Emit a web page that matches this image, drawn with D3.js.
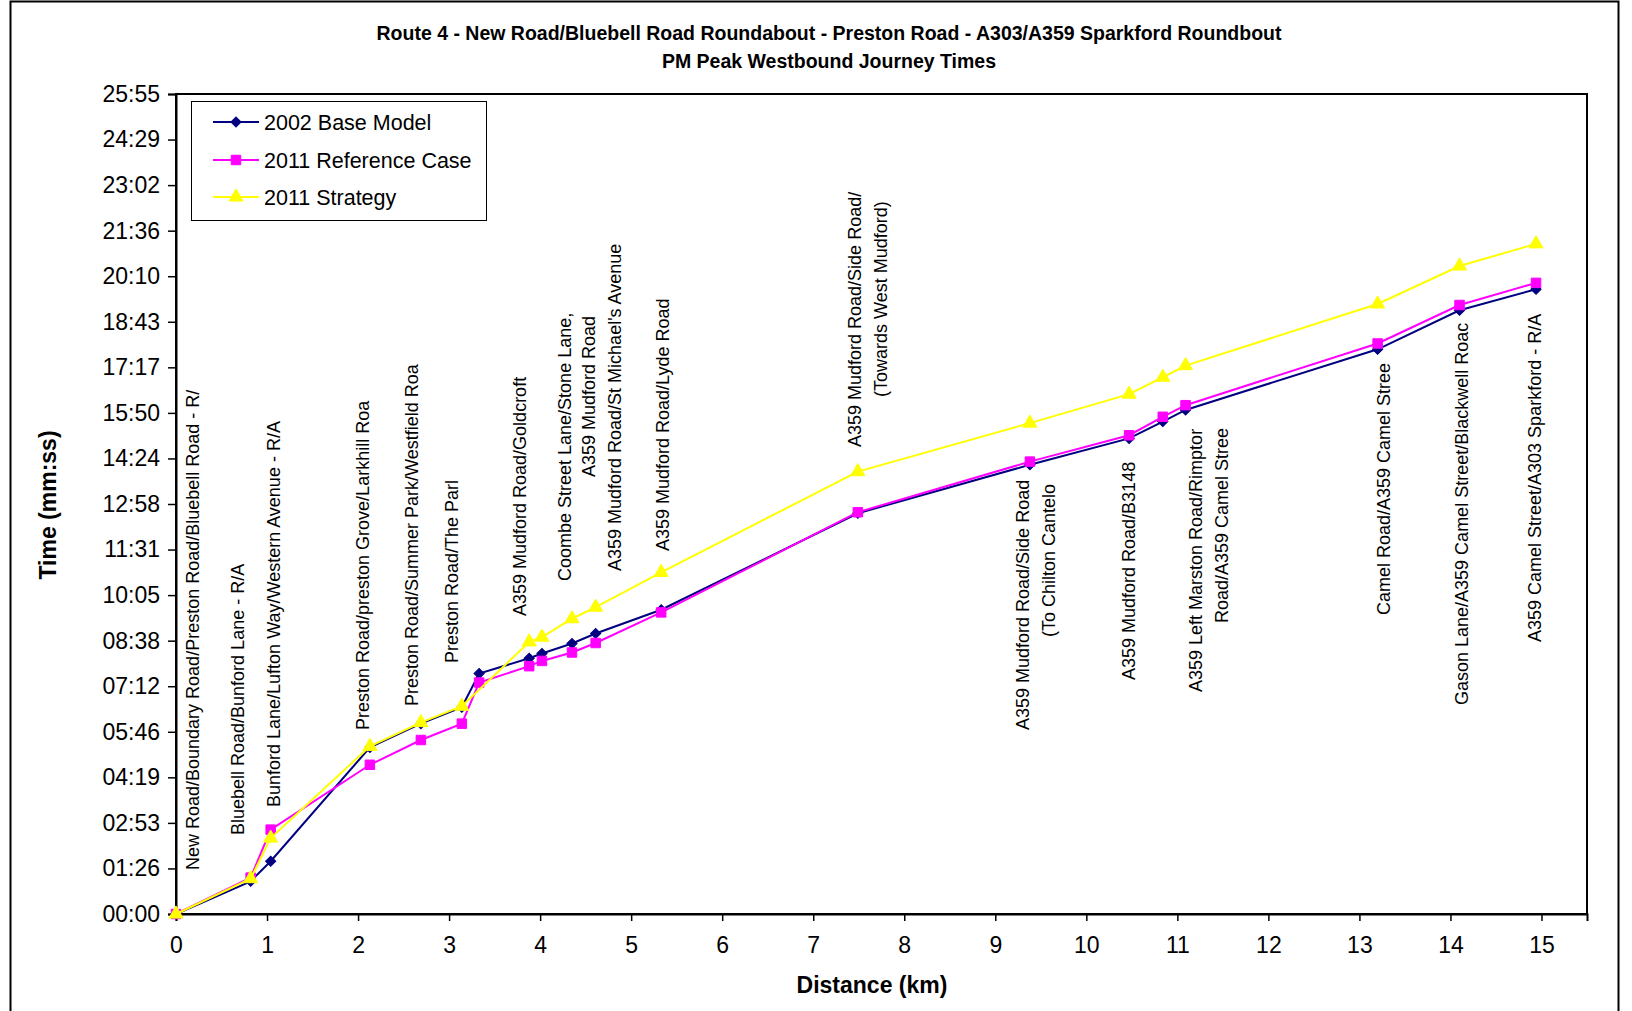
<!DOCTYPE html>
<html>
<head>
<meta charset="utf-8">
<script src="https://cdn.jsdelivr.net/npm/d3@7/dist/d3.min.js"></script>
<style>
  html, body { margin: 0; padding: 0; background: #fff; }
  svg { display: block; font-family: "Liberation Sans", Arial, sans-serif; }
</style>
</head>
<body>
<svg id="chart" width="1632" height="1011"></svg>
<script>
// ---------------- DATA ----------------
const titleLines = [
  "Route 4 - New Road/Bluebell Road Roundabout - Preston Road - A303/A359 Sparkford Roundbout",
  "PM Peak Westbound Journey Times"
];
const xAxisTitle = "Distance (km)";
const yAxisTitle = "Time (mm:ss)";

// distance along route (km)
const distances = [0, 0.82, 1.04, 2.13, 2.69, 3.14, 3.33, 3.88, 4.02, 4.35, 4.61, 5.33, 7.49, 9.38, 10.47, 10.84, 11.09, 13.20, 14.10, 14.94];
// cumulative journey time (seconds)
const baseModel2002     = [0, 62, 100, 316, 361, 392, 456, 485, 494, 513, 532, 577, 760, 852, 902, 934, 956, 1071, 1145, 1185];
const referenceCase2011 = [0, 69, 160, 283, 330, 361, 439, 470, 480, 496, 514, 572, 762, 858, 908, 943, 965, 1082, 1155, 1197];
const strategy2011      = [0, 67, 144, 318, 363, 394, null, 516, 525, 560, 582, 648, 839, 931, 986, 1018, 1040, 1157, 1229, 1271];

const seriesNames = ["2002 Base Model", "2011 Reference Case", "2011 Strategy"];

const xTickValues = [0, 1, 2, 3, 4, 5, 6, 7, 8, 9, 10, 11, 12, 13, 14, 15];
const yTickLabels = ["00:00", "01:26", "02:53", "04:19", "05:46", "07:12", "08:38", "10:05", "11:31",
                     "12:58", "14:24", "15:50", "17:17", "18:43", "20:10", "21:36", "23:02", "24:29", "25:55"];
const yTickStepSeconds = 86.4; // 0.001 day

// junction annotations (text lines)
const junctionLabels = [
  ["New Road/Boundary Road/Preston Road/Bluebell Road - R/"],
  ["Bluebell Road/Bunford Lane - R/A"],
  ["Bunford Lane/Lufton Way/Western Avenue - R/A"],
  ["Preston Road/preston Grove/Larkhill Roa"],
  ["Preston Road/Summer Park/Westfield Roa"],
  ["Preston Road/The Parl"],
  ["A359 Mudford Road/Goldcroft"],
  ["Coombe Street Lane/Stone Lane,"],
  ["A359 Mudford Road"],
  ["A359 Mudford Road/St Michael's Avenue"],
  ["A359 Mudford Road/Lyde Road"],
  ["A359 Mudford Road/Side Road/", "(Towards West Mudford)"],
  ["A359 Mudford Road/Side Road", "(To Chilton Cantelo"],
  ["A359 Mudford Road/B3148"],
  ["A359 Left Marston Road/Rimptor", "Road/A359 Camel Stree"],
  ["Camel Road/A359 Camel Stree"],
  ["Gason Lane/A359 Camel Street/Blackwell Roac"],
  ["A359 Camel Street/A303 Sparkford - R/A"]
];

// ---------------- LAYOUT ----------------
// pixel layout of annotation text: centre x of first line, bottom y of each line
const labelLayout = [
  { x: 193, bottoms: [870] },
  { x: 238, bottoms: [835] },
  { x: 274, bottoms: [807] },
  { x: 363, bottoms: [730] },
  { x: 412, bottoms: [706] },
  { x: 452, bottoms: [663] },
  { x: 520, bottoms: [616] },
  { x: 565, bottoms: [581] },
  { x: 589, bottoms: [477] },
  { x: 615, bottoms: [571] },
  { x: 663, bottoms: [551] },
  { x: 855, bottoms: [447, 397] },
  { x: 1023, bottoms: [730, 637] },
  { x: 1129, bottoms: [680] },
  { x: 1196, bottoms: [692, 623] },
  { x: 1384, bottoms: [615] },
  { x: 1462, bottoms: [705] },
  { x: 1535, bottoms: [642] }
];
const lineGap = 26;

const plot = { left: 176, right: 1587, top: 94, bottom: 914 };

const svg = d3.select("#chart");

// outer frame
svg.append("rect")
  .attr("x", 10.5).attr("y", 1.5)
  .attr("width", 1608).attr("height", 1100)
  .attr("fill", "#fff").attr("stroke", "#000").attr("stroke-width", 2);

const x = d3.scaleLinear().domain([0, 15.5]).range([plot.left, plot.right]);
const yMax = yTickStepSeconds * (yTickLabels.length - 1);
const y = d3.scaleLinear().domain([0, yMax]).range([plot.bottom, plot.top]);

// plot area border
svg.append("rect")
  .attr("x", plot.left).attr("y", plot.top)
  .attr("width", plot.right - plot.left).attr("height", plot.bottom - plot.top)
  .attr("fill", "#fff").attr("stroke", "#000").attr("stroke-width", 2);

// title
svg.append("g").selectAll("text").data(titleLines).join("text")
  .attr("x", 829)
  .attr("y", (d, i) => [40, 68][i])
  .attr("text-anchor", "middle")
  .attr("font-weight", "bold")
  .attr("font-size", 19.5)
  .attr("fill", "#000")
  .text(d => d);

// axes
const yTickValues = yTickLabels.map((_, i) => i * yTickStepSeconds);
const yAxis = d3.axisLeft(y)
  .tickValues(yTickValues)
  .tickSize(8)
  .tickPadding(8)
  .tickFormat((d, i) => yTickLabels[i]);
const gy = svg.append("g").attr("transform", `translate(${plot.left},0)`).call(yAxis);
gy.select(".domain").attr("stroke", "#000").attr("stroke-width", 2);
gy.selectAll(".tick line").attr("stroke", "#000").attr("stroke-width", 1.5);
gy.selectAll(".tick text").attr("font-size", 23).attr("fill", "#000")
  .attr("font-family", "'Liberation Sans', Arial, sans-serif");

const xAxis = d3.axisBottom(x)
  .tickValues(xTickValues)
  .tickSize(7)
  .tickPadding(16)
  .tickFormat(d3.format("d"));
const gx = svg.append("g").attr("transform", `translate(0,${plot.bottom})`).call(xAxis);
gx.select(".domain").attr("stroke", "#000").attr("stroke-width", 2);
gx.selectAll(".tick line").attr("stroke", "#000").attr("stroke-width", 1.5);
gx.selectAll(".tick text").attr("font-size", 23).attr("fill", "#000")
  .attr("font-family", "'Liberation Sans', Arial, sans-serif");

// axis titles
svg.append("text")
  .attr("x", 872).attr("y", 993)
  .attr("text-anchor", "middle")
  .attr("font-weight", "bold").attr("font-size", 23)
  .text(xAxisTitle);
svg.append("text")
  .attr("transform", "translate(56,505) rotate(-90)")
  .attr("text-anchor", "middle")
  .attr("font-weight", "bold").attr("font-size", 23)
  .text(yAxisTitle);

// annotations
const ann = svg.append("g");
junctionLabels.forEach((lines, i) => {
  const L = labelLayout[i];
  lines.forEach((t, j) => {
    ann.append("text")
      .attr("transform", `translate(${L.x + j * lineGap},${L.bottoms[j]}) rotate(-90)`)
      .attr("dy", "0.35em")
      .attr("text-anchor", "start")
      .attr("font-size", 18)
      .attr("fill", "#000")
      .text(t);
  });
});

// series
const series = [
  { name: seriesNames[0], values: baseModel2002, color: "#000080", symbol: d3.symbolSquare, size: 52, rot: 45 },
  { name: seriesNames[1], values: referenceCase2011, color: "#FF00FF", symbol: d3.symbolSquare, size: 90, rot: 0 },
  { name: seriesNames[2], values: strategy2011, color: "#FFFF00", symbol: d3.symbolTriangle, size: 85, rot: 0 }
];

const line = d3.line().x(d => x(d[0])).y(d => y(d[1]));

series.forEach(s => {
  const pts = distances.map((d, i) => [d, s.values[i]]).filter(p => p[1] !== null);
  const g = svg.append("g");
  g.append("path")
    .attr("d", line(pts))
    .attr("fill", "none")
    .attr("stroke", s.color)
    .attr("stroke-width", 2);
  g.selectAll("path.m").data(pts).join("path")
    .attr("class", "m")
    .attr("transform", p => `translate(${x(p[0])},${y(p[1])}) rotate(${s.rot})`)
    .attr("d", d3.symbol().type(s.symbol).size(s.size))
    .attr("fill", s.color)
    .attr("stroke", s.color)
    .attr("stroke-width", 1);
});

// legend
const legend = svg.append("g");
legend.append("rect")
  .attr("x", 191.5).attr("y", 101.5).attr("width", 295).attr("height", 119)
  .attr("fill", "#fff").attr("stroke", "#000").attr("stroke-width", 1);
series.forEach((s, i) => {
  const cy = [122, 160, 197][i];
  legend.append("line")
    .attr("x1", 213).attr("x2", 259).attr("y1", cy).attr("y2", cy)
    .attr("stroke", s.color).attr("stroke-width", 2);
  legend.append("path")
    .attr("transform", `translate(236,${cy}) rotate(${s.rot})`)
    .attr("d", d3.symbol().type(s.symbol).size(s.size))
    .attr("fill", s.color).attr("stroke", s.color);
  legend.append("text")
    .attr("x", 264).attr("y", cy).attr("dy", "0.35em")
    .attr("font-size", 21.5).attr("fill", "#000")
    .text(s.name);
});
</script>
</body>
</html>
